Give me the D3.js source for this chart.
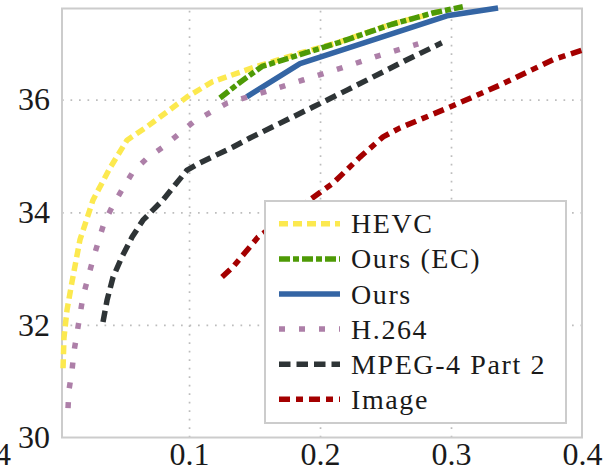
<!DOCTYPE html>
<html>
<head>
<meta charset="utf-8">
<script src="https://cdn.jsdelivr.net/npm/d3@7"></script>
<style>
  body { margin: 0; background: #fff; }
  svg { display: block; }
</style>
</head>
<body>
<svg id="chart"></svg>
<script>
// rate (x) / PSNR (y) points
let hevc = [[0.0038,31.23],[0.0045,31.77],[0.0068,32.26],[0.0106,32.76],[0.0167,33.51],[0.0267,34.22],
            [0.0397,34.79],[0.0526,35.28],[0.0679,35.52],[0.0985,36.05],[0.118,36.32],[0.149,36.57],
            [0.185,36.83],[0.213,37.01],[0.253,37.33],[0.295,37.59]]
let oursEC = [[0.1236,36.03],[0.139,36.31],[0.1557,36.59],[0.1847,36.8],[0.215,37.02],[0.2534,37.33],
              [0.286,37.54],[0.309,37.65]]
let ours = [[0.144,36.05],[0.1847,36.64],[0.2206,36.91],[0.2969,37.49],[0.3359,37.63]]
let h264 = [[0.0076,30.52],[0.0083,30.84],[0.0106,31.18],[0.0121,31.52],[0.0145,31.86],[0.019,32.5],
            [0.0267,33.17],[0.0351,33.81],[0.042,34.13],[0.0496,34.43],[0.0572,34.72],[0.0679,34.96],
            [0.0801,35.16],[0.103,35.6],[0.129,35.94],[0.158,36.14],[0.187,36.35],[0.216,36.56],
            [0.2445,36.78],[0.275,36.99]]
let mpeg4 = [[0.0343,32.05],[0.0374,32.44],[0.042,32.85],[0.0488,33.21],[0.0565,33.56],[0.0648,33.86],
             [0.0801,34.22],[0.0985,34.75],[0.1084,34.88],[0.1336,35.16],[0.1465,35.32],[0.1946,35.87],
             [0.2206,36.17],[0.2664,36.71],[0.293,37.01]]
let image = [[0.1252,32.85],[0.1336,33.03],[0.1527,33.56],[0.1939,34.25],[0.21,34.52],[0.2305,34.98],
             [0.2481,35.34],[0.2611,35.5],[0.2992,35.87],[0.3374,36.26],[0.3779,36.71],[0.4,36.88]]

let seriesNames = ["HEVC", "Ours (EC)", "Ours", "H.264", "MPEG-4 Part 2", "Image"]
let seriesData = [hevc, oursEC, ours, h264, mpeg4, image]

let xTicks = [0.1, 0.2, 0.3, 0.4]
let yTicks = [30, 32, 34, 36]

let colors = ["#fce94f", "#4e9a06", "#3465a4", "#ad7fa8", "#2e3436", "#a40000"]
let dashes = ["9,5", "11,3,6,3", null, "6,14", "11.5,6", "11,6,7,6"]

let W = 604, H = 472
let plotL = 62, plotR = 582, plotT = 8.5, plotB = 437.5

let svg = d3.select("#chart").attr("width", W).attr("height", H)

let x = d3.scaleLinear().domain([0.003, 0.4]).range([plotL, plotR])
let y = d3.scaleLinear().domain([30, 37.62]).range([plotB, plotT])

let font = "'Liberation Serif', 'Times New Roman', serif"

// grid
svg.append("g")
    .attr("transform", `translate(0,${plotB})`)
    .call(d3.axisBottom(x).tickValues([0.1, 0.2, 0.3]).tickSize(-(plotB - plotT)).tickFormat(""))
    .call(g => g.select(".domain").remove())
    .selectAll("line")
    .attr("stroke", "#bdbdbd").attr("stroke-width", 1.7).attr("stroke-dasharray", "1.7,6.8")

svg.append("g")
    .attr("transform", `translate(${plotL},0)`)
    .call(d3.axisLeft(y).tickValues([32, 34, 36]).tickSize(-(plotR - plotL)).tickFormat(""))
    .call(g => g.select(".domain").remove())
    .selectAll("line")
    .attr("stroke", "#bdbdbd").attr("stroke-width", 1.7).attr("stroke-dasharray", "1.7,6.8")

// frame
svg.append("rect")
    .attr("x", plotL).attr("y", plotT)
    .attr("width", plotR - plotL).attr("height", plotB - plotT)
    .attr("fill", "none").attr("stroke", "#cccccc").attr("stroke-width", 2)

// tick labels
let xAxis = svg.append("g")
    .attr("transform", `translate(0,${plotB})`)
    .call(d3.axisBottom(x).tickValues(xTicks).tickSize(0).tickPadding(5).tickFormat(d3.format(".1f")))
xAxis.select(".domain").remove()
xAxis.selectAll("text").style("font-family", font).style("font-size", "32px").attr("fill", "#1a1a1a")

let yAxis = svg.append("g")
    .attr("transform", `translate(${plotL},0)`)
    .call(d3.axisLeft(y).tickValues(yTicks).tickSize(0).tickPadding(12))
yAxis.select(".domain").remove()
yAxis.selectAll("text").style("font-family", font).style("font-size", "32px").attr("fill", "#1a1a1a")

// clipped label from the neighbouring panel
svg.append("text")
    .attr("x", 11).attr("y", plotB + 5).attr("dy", "0.71em")
    .attr("text-anchor", "end")
    .style("font-family", font).style("font-size", "32px").attr("fill", "#1a1a1a")
    .text("0.4")

// curves
let line = d3.line().x(d => x(d[0])).y(d => y(d[1]))

svg.append("g").selectAll("path")
    .data(seriesData)
    .enter()
    .append("path")
    .attr("d", line)
    .attr("fill", "none")
    .attr("stroke", (d, i) => colors[i])
    .attr("stroke-width", 5.5)
    .attr("stroke-dasharray", (d, i) => dashes[i])
    .attr("stroke-linejoin", "round")

// legend
let legend = svg.append("g")
legend.append("rect")
    .attr("x", 265).attr("y", 201).attr("width", 301).attr("height", 222)
    .attr("fill", "#fff").attr("stroke", "#cccccc").attr("stroke-width", 2)

let rows = legend.selectAll(".row")
    .data(seriesNames)
    .enter()
    .append("g")
    .attr("class", "row")
    .attr("transform", (d, i) => `translate(0,${223.8 + i * 35.1})`)

rows.append("line")
    .attr("x1", 279).attr("x2", 340)
    .attr("stroke", (d, i) => colors[i])
    .attr("stroke-width", 5.5)
    .attr("stroke-dasharray", (d, i) => dashes[i])

rows.append("text")
    .attr("x", 351).attr("dy", "0.34em")
    .style("font-family", font).style("font-size", "28px").style("letter-spacing", "1.6px")
    .attr("fill", "#1a1a1a")
    .text(d => d)
</script>
</body>
</html>
